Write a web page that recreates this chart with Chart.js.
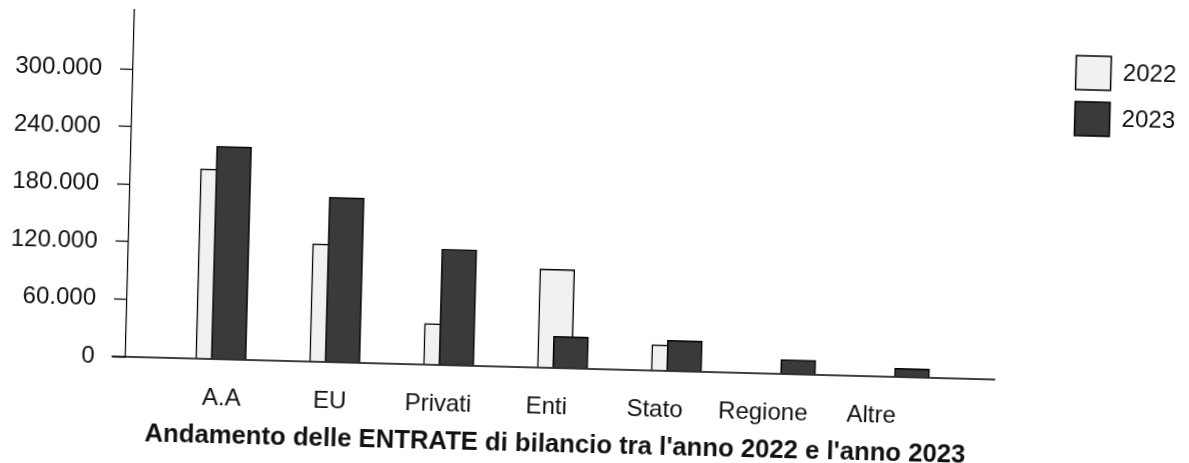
<!DOCTYPE html>
<html>
<head>
<meta charset="utf-8">
<script src="https://cdn.jsdelivr.net/npm/chart.js@4.4.1/dist/chart.umd.min.js"></script>
<style>
  html, body { margin: 0; padding: 0; background: #fff; overflow: hidden; }
  #chart_Entrate { display: block; transform: rotate(1.5deg); transform-origin: 50% 50%; }
</style>
</head>
<body>
<canvas id="chart_Entrate" width="1189" height="463"></canvas>
<script>

const categories = ["A.A", "EU", "Privati", "Enti", "Stato", "Regione", "Altre"];
const values_2022 = [198000, 123000, 43000, 103000, 27000, 0, 0];
const values_2023 = [222000, 172000, 121000, 33000, 32000, 15000, 9000];
const yTickValues = [0, 60000, 120000, 180000, 240000, 300000];
const seriesNames = ["2022", "2023"];
const titleText = "Andamento delle ENTRATE di bilancio tra l'anno 2022 e l'anno 2023";

// plot area edges in px, used to place the index axes
const PLOT_LEFT = 129;
const PLOT_RIGHT = 1061;

function spanFor(firstPx, stepPx) {
    return { min: (PLOT_LEFT - firstPx) / stepPx, max: (PLOT_RIGHT - firstPx) / stepPx };
}

const span_labels = spanFor(226, 108.5);
const span_2022 = spanFor(216.7, 114.1);
const span_2023 = spanFor(232.2, 114.1);

function formatIt(v) {
    return String(v).replace(/\B(?=(\d{3})+(?!\d))/g, '.');
}

Chart.defaults.font.family = '"Liberation Sans", Arial, sans-serif';
Chart.defaults.color = '#111';

const baselinePlugin = {
    id: 'baseline',
    afterDatasetsDraw(chart) {
        const ctx = chart.ctx;
        const y = chart.scales.y.getPixelForValue(0);
        ctx.save();
        ctx.strokeStyle = '#000';
        ctx.lineWidth = 1.5;
        ctx.beginPath();
        ctx.moveTo(chart.chartArea.left - 14, y);
        ctx.lineTo(chart.chartArea.left + 870, y);
        ctx.stroke();
        ctx.restore();
    }
};

const titlePlugin = {
    id: 'bottomTitle',
    afterDraw(chart) {
        const ctx = chart.ctx;
        ctx.save();
        ctx.font = 'bold 25.7px "Liberation Sans", Arial, sans-serif';
        ctx.fillStyle = '#111';
        ctx.textAlign = 'left';
        ctx.textBaseline = 'middle';
        ctx.fillText(titleText, chart.chartArea.left + 21, chart.chartArea.bottom + 77);
        ctx.restore();
    }
};

const config_Entrate = {
    type: 'bar',
    data: {
        datasets: [
            {
                label: seriesNames[1],
                data: values_2023.map((v, i) => ({ x: i, y: v })),
                xAxisID: 'x23',
                backgroundColor: '#3a3a3a',
                borderColor: '#000',
                borderWidth: 1.5,
                barThickness: 35,
                grouped: false
            },
            {
                label: seriesNames[0],
                data: values_2022.map((v, i) => ({ x: i, y: v })),
                xAxisID: 'x22',
                backgroundColor: '#f1f1f1',
                borderColor: '#000',
                borderWidth: 1.5,
                barThickness: 35,
                grouped: false
            }
        ]
    },
    options: {
        responsive: false,
        animation: false,
        layout: { padding: { left: 0, right: 7, top: 22, bottom: 15 } },
        plugins: {
            tooltip: { enabled: false },
            legend: {
                position: 'right',
                align: 'start',
                reverse: true,
                // empty title only used as a spacer above the items
                title: { display: true, text: '', padding: { top: 7.8, bottom: 0 }, font: { size: 1 } },
                labels: {
                    boxWidth: 35,
                    boxHeight: 34,
                    padding: 12,
                    color: '#111',
                    font: { size: 24 }
                }
            }
        },
        scales: {
            x: {
                type: 'linear',
                position: 'bottom',
                offset: false,
                min: span_labels.min,
                max: span_labels.max,
                afterBuildTicks: s => { s.ticks = categories.map((c, i) => ({ value: i })); },
                afterFit: s => { s.height = 79; },
                ticks: {
                    callback: (v, i) => categories[i],
                    autoSkip: false,
                    maxRotation: 0,
                    padding: 25,
                    color: '#111',
                    font: { size: 24 }
                },
                grid: { display: false, drawTicks: false },
                border: { display: false }
            },
            x22: {
                type: 'linear', axis: 'x', display: false, offset: false,
                min: span_2022.min, max: span_2022.max
            },
            x23: {
                type: 'linear', axis: 'x', display: false, offset: false,
                min: span_2023.min, max: span_2023.max
            },
            y: {
                min: 0,
                max: 362000,
                afterBuildTicks: s => { s.ticks = yTickValues.map(v => ({ value: v })); },
                afterFit: s => { s.width = PLOT_LEFT; s.paddingTop = 0; },
                ticks: {
                    callback: v => formatIt(v),
                    padding: 18,
                    color: '#111',
                    font: { size: 24 }
                },
                grid: { drawOnChartArea: false, drawTicks: true, tickLength: 13, tickColor: '#000', tickWidth: 1.2 },
                border: { display: true, color: '#000', width: 1.2 }
            }
        }
    },
    plugins: [baselinePlugin, titlePlugin]
};

const ctx_Entrate = document.getElementById('chart_Entrate').getContext('2d');
const myChart_Entrate = new Chart(ctx_Entrate, config_Entrate);

</script>
</body>
</html>
